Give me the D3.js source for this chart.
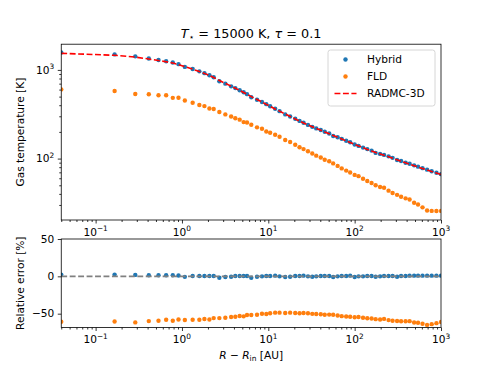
<!DOCTYPE html>
<html>
<head>
<meta charset="utf-8">
<script src="https://cdn.jsdelivr.net/npm/d3@7"></script>
<style>
body { margin: 0; background: #fff; }
svg { font-family: "DejaVu Sans", sans-serif; }
</style>
</head>
<body>
<svg id="chart" width="490" height="368"></svg>
<script>
// R - R_in [AU]
const radius = [0.04,0.166,0.288,0.413,0.535,0.656,0.783,0.912,1.08,1.33,
  1.59,1.82,2.08,2.33,2.71,3.18,3.71,4.15,4.66,5.18,
  5.67,6.35,7.40,8.45,9.48,10.5,12.0,13.5,15.7,17.9,
  20.5,23.0,25.6,28.8,32.3,35.9,40.5,45.0,50.7,56.4,
  63.5,70.8,79.8,88.7,100,111,125,140,157,175,
  197,219,247,275,310,345,389,433,488,542,
  611,690,780,885,1000];

// gas temperature [K]
const tRadmc = [1538,1462,1396,1327,1276,1236,1194,1148,1089,1019,
  959,914,867,822,760,706,656,621,587,556,
  530,500,463,434,409,388,362,343,318,299,
  280,265,252,240,229,219,209,200,191,182,
  174,166,158,152,145,139,133,127,122,117,
  113,109,105,101,96.8,93.3,89.5,86.5,83.2,80.4,
  77.3,74.3,71.4,68.7,66.2];
const tHybrid = [1573,1496,1423,1346,1294,1253,1211,1161,1081,1024,
  964,919,871,826,746,700,653,624,590,559,
  533,491,461,434,411,390,365,343,315,298,
  281,266,254,240,228,219,210,201,192,180,
  174,167,159,153,144,139,133,128,123,116,
  113,110,106,102,96.3,93.8,89.9,87.3,83.9,81.1,
  78.0,75.0,72.0,69.3,66.8];
const tFld = [603,579,535,532,517,518,484,486,452,427,
  402,391,367,363,335,315,298,285,275,258,
  255,241,225,217,202,196,186,176,162,154,
  143,134,128,121,114,108,103,97.2,93.2,88.3,
  82.7,77.5,73.2,69.8,65.5,63.4,59.2,55.8,53.1,50.0,
  47.8,46.9,43.5,41.0,39.0,37.1,35.6,34.6,31.8,30.4,
  28.2,26.0,25.7,25.6,25.7];

// relative error [%]
const errHybrid = [2.3,2.3,1.9,1.4,1.4,1.4,1.4,1.1,-0.7,0.5,
  0.5,0.5,0.5,0.5,-1.8,-0.9,-0.5,0.5,0.5,0.5,
  0.5,-1.8,-0.5,0,0.5,0.5,0.9,0,-0.9,-0.5,
  0.5,0.5,0.9,0,-0.5,0,0.5,0.5,0.5,-0.9,
  0,0.5,0.5,0.9,-0.9,0,0,0.5,0.5,-0.5,
  0,0.5,0.5,0.5,-0.5,0.5,0.5,0.9,0.9,0.9,
  0.9,0.9,0.9,0.9,0.9];
const errFld = [-60.8,-60.4,-61.7,-59.9,-59.5,-58.1,-59.5,-57.7,-58.5,-58.1,
  -58.1,-57.2,-57.7,-55.9,-55.9,-55.4,-54.5,-54.1,-53.2,-53.6,
  -51.8,-51.8,-51.4,-50,-50.5,-49.5,-48.6,-48.6,-49.1,-48.6,
  -49.1,-49.5,-49.1,-49.5,-50.2,-50.5,-50.8,-51.4,-51.2,-51.5,
  -52.5,-53.3,-53.7,-54.1,-54.8,-54.4,-55.5,-56.1,-56.5,-57.3,
  -57.7,-57,-58.6,-59.4,-59.7,-60.2,-60.2,-60,-61.8,-62.2,
  -63.5,-65,-64,-62.7,-61.2];

const xTicks = [0.1, 1, 10, 100, 1000];
const xTickExp = ["\u22121", "0", "1", "2", "3"];
const tTicks = [100, 1000];
const tTickExp = ["2", "3"];
const errTicks = [-50, 0, 50];

const BLUE = "#1f77b4", ORANGE = "#ff7f0e", RED = "#ff0000", GRAY = "#808080";
const FS = 10.6;

const svg = d3.select("#chart");
const left = 61.25, right = 441;
const top1 = 44.2, bot1 = 220, top2 = 239, bot2 = 327.5;

const x = d3.scaleLog().domain([0.04, 1000]).range([left, right]);
const yT = d3.scaleLog().domain([20.3, 1950]).range([bot1, top1]);
const yE = d3.scaleLinear().domain([-68.5, 50]).range([bot2, top2]);

const xMinor = x.ticks().filter(v => Math.abs(Math.log10(v) - Math.round(Math.log10(v))) > 1e-6);
const tMinor = yT.ticks().filter(v => Math.abs(Math.log10(v) - Math.round(Math.log10(v))) > 1e-6);

function powLabel(sel, exp) {
  sel.append("tspan").text("10");
  sel.append("tspan").attr("dy", -4.6).attr("font-size", FS * 0.7).text(exp);
}

function drawPanel(y, yTop, yBot, clipId) {
  svg.append("defs").append("clipPath").attr("id", clipId)
    .append("rect").attr("x", left).attr("y", yTop).attr("width", right - left).attr("height", yBot - yTop);

  // x axis ticks
  const gx = svg.append("g").attr("transform", `translate(0,${yBot})`);
  gx.call(d3.axisBottom(x).tickValues(xTicks).tickSize(3.5).tickFormat(""));
  gx.append("g").call(d3.axisBottom(x).tickValues(xMinor).tickSize(2).tickFormat(""));
  gx.selectAll(".domain").remove();
  gx.selectAll("line").attr("stroke", "#000").attr("stroke-width", 0.8);
  xTicks.forEach((v, i) => {
    const t = svg.append("text").attr("x", x(v)).attr("y", yBot + 15.6)
      .attr("text-anchor", "middle").attr("font-size", FS);
    powLabel(t, xTickExp[i]);
  });
}

// ---- top panel ----
drawPanel(yT, top1, bot1, "clip1");
const gy1 = svg.append("g").attr("transform", `translate(${left},0)`);
gy1.call(d3.axisLeft(yT).tickValues(tTicks).tickSize(3.5).tickFormat(""));
gy1.append("g").call(d3.axisLeft(yT).tickValues(tMinor).tickSize(2).tickFormat(""));
gy1.selectAll(".domain").remove();
gy1.selectAll("line").attr("stroke", "#000").attr("stroke-width", 0.8);
tTicks.forEach((v, i) => {
  const t = svg.append("text").attr("x", left - 7).attr("y", yT(v) + 3.8)
    .attr("text-anchor", "end").attr("font-size", FS);
  t.append("tspan").text("10");
  t.append("tspan").attr("dy", -4.6).attr("font-size", FS * 0.7).text(tTickExp[i]);
});

const plot1 = svg.append("g").attr("clip-path", "url(#clip1)");
plot1.selectAll(".hyb").data(radius).enter().append("circle")
  .attr("cx", d => x(d)).attr("cy", (d, i) => yT(tHybrid[i])).attr("r", 2.2).attr("fill", BLUE);
plot1.selectAll(".fld").data(radius).enter().append("circle")
  .attr("cx", d => x(d)).attr("cy", (d, i) => yT(tFld[i])).attr("r", 2.2).attr("fill", ORANGE);
plot1.append("path")
  .attr("d", d3.line().x(d => x(d)).y((d, i) => yT(tRadmc[i]))(radius))
  .attr("fill", "none").attr("stroke", RED).attr("stroke-width", 1.6)
  .attr("stroke-dasharray", "5.9,2.55");

svg.append("rect").attr("x", left).attr("y", top1).attr("width", right - left).attr("height", bot1 - top1)
  .attr("fill", "none").attr("stroke", "#000").attr("stroke-width", 0.8);

// legend
const lg = svg.append("g");
lg.append("rect").attr("x", 328).attr("y", 50).attr("width", 107).attr("height", 56).attr("rx", 2.5)
  .attr("fill", "#fff").attr("fill-opacity", 0.8).attr("stroke", "#cccccc").attr("stroke-width", 0.8);
lg.append("circle").attr("cx", 345.5).attr("cy", 59.5).attr("r", 2.2).attr("fill", BLUE);
lg.append("circle").attr("cx", 345.5).attr("cy", 76.5).attr("r", 2.2).attr("fill", ORANGE);
lg.append("line").attr("x1", 334.5).attr("x2", 356.5).attr("y1", 93.5).attr("y2", 93.5)
  .attr("stroke", RED).attr("stroke-width", 1.6).attr("stroke-dasharray", "5.9,2.55");
[["Hybrid", 59.5], ["FLD", 76.5], ["RADMC-3D", 93.5]].forEach(([s, yy]) => {
  lg.append("text").attr("x", 367).attr("y", yy + 3.9).attr("font-size", FS).text(s);
});

// ---- bottom panel ----
drawPanel(yE, top2, bot2, "clip2");
const gy2 = svg.append("g").attr("transform", `translate(${left},0)`);
gy2.call(d3.axisLeft(yE).tickValues(errTicks).tickSize(3.5).tickFormat(""));
gy2.selectAll(".domain").remove();
gy2.selectAll("line").attr("stroke", "#000").attr("stroke-width", 0.8);
errTicks.forEach(v => {
  svg.append("text").attr("x", left - 7).attr("y", yE(v) + 3.8)
    .attr("text-anchor", "end").attr("font-size", FS)
    .text(v < 0 ? "\u2212" + Math.abs(v) : String(v));
});

const plot2 = svg.append("g").attr("clip-path", "url(#clip2)");
plot2.selectAll(".eh").data(radius).enter().append("circle")
  .attr("cx", d => x(d)).attr("cy", (d, i) => yE(errHybrid[i])).attr("r", 2.2).attr("fill", BLUE);
plot2.selectAll(".ef").data(radius).enter().append("circle")
  .attr("cx", d => x(d)).attr("cy", (d, i) => yE(errFld[i])).attr("r", 2.2).attr("fill", ORANGE);
plot2.append("line").attr("x1", left).attr("x2", right).attr("y1", yE(0)).attr("y2", yE(0))
  .attr("stroke", GRAY).attr("stroke-width", 1.6).attr("stroke-dasharray", "5.9,2.55");

svg.append("rect").attr("x", left).attr("y", top2).attr("width", right - left).attr("height", bot2 - top2)
  .attr("fill", "none").attr("stroke", "#000").attr("stroke-width", 0.8);

// ---- labels ----
const cx = (left + right) / 2;
const title = svg.append("text").attr("x", cx).attr("y", 37.5).attr("text-anchor", "middle").attr("font-size", 12.8);
title.append("tspan").attr("font-style", "italic").text("T");
title.append("tspan").attr("dy", 2.5).attr("font-size", 9).text("\u22c6");
title.append("tspan").attr("dy", -2.5).text(" = 15000 K, ");
title.append("tspan").attr("font-style", "italic").text("\u03c4");
title.append("tspan").text(" = 0.1");

const xl = svg.append("text").attr("x", cx).attr("y", 359).attr("text-anchor", "middle").attr("font-size", FS);
xl.append("tspan").attr("font-style", "italic").text("R");
xl.append("tspan").text(" \u2212 ");
xl.append("tspan").attr("font-style", "italic").text("R");
xl.append("tspan").attr("dy", 2.2).attr("font-size", 7.5).text("in");
xl.append("tspan").attr("dy", -2.2).text(" [AU]");

svg.append("text").attr("transform", `translate(24,${(top1 + bot1) / 2}) rotate(-90)`)
  .attr("text-anchor", "middle").attr("font-size", FS).text("Gas temperature [K]");
svg.append("text").attr("transform", `translate(24,${(top2 + bot2) / 2}) rotate(-90)`)
  .attr("text-anchor", "middle").attr("font-size", FS).text("Relative error [%]");
</script>
</body>
</html>
